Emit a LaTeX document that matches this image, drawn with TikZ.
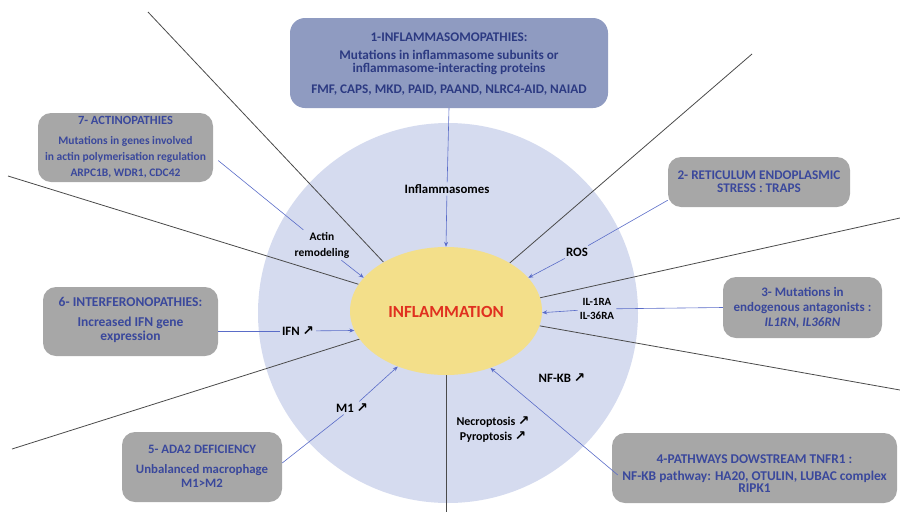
\documentclass[tikz,border=0pt]{standalone}
\usepackage{fontspec}
\setmainfont{Carlito}
\newfontfamily\dvs{DejaVu Sans}
\usetikzlibrary{arrows.meta,calc,shapes.geometric}
\definecolor{circfill}{HTML}{D5DBEF}
\definecolor{ellfill}{HTML}{F3DF8A}
\definecolor{boxgray}{HTML}{A7A7A7}
\definecolor{boxblue}{HTML}{8F9BC1}
\definecolor{txtblue}{HTML}{3A489C}
\definecolor{txtnavy}{HTML}{2C3A82}
\definecolor{conblue}{HTML}{5A6CC8}
\definecolor{sepgray}{HTML}{4A4A4A}
\definecolor{inflred}{HTML}{E0301F}
\newcommand\upar{{\dvs\bfseries\fontsize{13.5}{13}\selectfont ↗}}
\tikzset{
  graybox/.style={draw=none,fill=boxgray,rounded corners=13pt,inner sep=0pt},
  bluebox/.style={draw=none,fill=boxblue,rounded corners=15pt,inner sep=0pt},
  btext/.style={text=txtblue,font=\bfseries\fontsize{13.2}{13}\selectfont,align=center,inner sep=0pt},
  lab/.style={text=black,font=\bfseries\fontsize{12.8}{14}\selectfont,align=center,inner sep=2pt},
  sepline/.style={draw=sepgray,line width=0.8pt},
  conn/.style={draw=conblue,line width=0.6pt},
  arr/.style={conn,-{Stealth[length=5pt,width=4pt]}},
}
\begin{document}
\begin{tikzpicture}[x=1pt,y=-1pt]
\useasboundingbox (0,0) rectangle (900,512);
% big circle and central ellipse
\node[circle,fill=circfill,minimum size=380pt,inner sep=0pt] (circ) at (448,313) {};
% separator lines
\node[ellipse,minimum width=192pt,minimum height=128pt,inner sep=0pt] (infl) at (446,311) {};
\coordinate (e1) at (148,12);
\coordinate (e2) at (752,54);
\coordinate (e3) at (900,218);
\coordinate (e4) at (900,390);
\coordinate (e5) at (446,512);
\coordinate (e6) at (12,449);
\coordinate (e7) at (8,176);
\draw[sepline] (infl.142.7) -- (e1);
\draw[sepline] (infl.37.7) -- (e2);
\draw[sepline] (infl.8.7) -- (e3);
\draw[sepline] (infl.-9.5) -- (e4);
\draw[sepline] (infl.south) -- (e5);
\draw[sepline] (infl.198.2) -- (e6);
\draw[sepline] (infl.163.2) -- (e7);
\node[ellipse,fill=ellfill,minimum width=192pt,minimum height=128pt,inner sep=0pt] (inflb) at (446,311) {};
\node[text=inflred,font=\bfseries\fontsize{17}{19}\selectfont] (inflt) at (446,312) {INFLAMMATION};
% boxes
\node[bluebox,minimum width=318pt,minimum height=90pt] (box1) at (449,63) {};
\node[btext,text=txtnavy] (t1) at (449,64) {1-INFLAMMASOMOPATHIES:\\[5pt]Mutations in inflammasome subunits or\\inflammasome-interacting proteins\\[8pt]FMF, CAPS, MKD, PAID, PAAND, NLRC4-AID, NAIAD};
\node[graybox,minimum width=182pt,minimum height=50pt] (box2) at (759,182) {};
\node[btext] (t2) at (759,182) {2- RETICULUM ENDOPLASMIC\\STRESS : TRAPS};
\node[graybox,minimum width=159pt,minimum height=61pt] (box3) at (802.5,307.5) {};
\node[btext,font=\bfseries\fontsize{13}{15}\selectfont] (t3) at (802.5,307.5) {3- Mutations in\\endogenous antagonists :\\\textit{IL1RN, IL36RN}};
\node[graybox,minimum width=285pt,minimum height=70pt] (box4) at (754.5,468) {};
\node[btext,font=\bfseries\fontsize{13.4}{13}\selectfont] (t4) at (754.5,474) {4-PATHWAYS DOWSTREAM TNFR1 :\\[4pt]NF-KB pathway: HA20, OTULIN, LUBAC complex\\[-1pt]RIPK1};
\node[graybox,minimum width=160pt,minimum height=70pt] (box5) at (202,467) {};
\node[btext,font=\bfseries\fontsize{12.8}{13.5}\selectfont] (t5) at (202,466.5) {5- ADA2 DEFICIENCY\\[6.5pt]Unbalanced macrophage\\M1>M2};
\node[graybox,minimum width=175pt,minimum height=69pt] (box6) at (130.5,321.5) {};
\node[btext,font=\bfseries\fontsize{13.5}{14}\selectfont] (t6) at (130.5,320) {6- INTERFERONOPATHIES:\\[6pt]Increased IFN gene\\expression};
\node[graybox,minimum width=175pt,minimum height=69pt] (box7) at (125.5,147.5) {};
\node[btext,font=\bfseries\fontsize{11.5}{16}\selectfont] (t7) at (125.5,147) {{\fontsize{12.5}{16}\selectfont 7- ACTINOPATHIES}\\[4pt]Mutations in genes involved\\in actin polymerisation regulation\\ARPC1B, WDR1, CDC42};
% labels
\node[lab] (infm) at (447,189) {Inflammasomes};
\node[lab,font=\bfseries\fontsize{11.5}{16}\selectfont] (actin) at (322,245) {Actin\\remodeling};
\node[lab] (ros) at (577,252) {ROS};
\node[lab,font=\bfseries\fontsize{11}{13.5}\selectfont] (il) at (597,309) {IL-1RA\\IL-36RA};
\node[lab] (ifn) at (298,331) {IFN \upar};
\node[lab] (m1) at (352,408) {M1 \upar};
\node[lab] (nfkb) at (562,378) {NF-KB \upar};
\node[lab,font=\bfseries\fontsize{12}{15}\selectfont] (necro) at (493,429.5) {Necroptosis \upar\\Pyroptosis \upar};
% connectors
\draw[conn] (box1.south) -- (infm);
\draw[arr] (infm) -- (infl.north);
\draw[conn] ($(box7.east)+(5,13)$) -- (actin);
\draw[arr] (actin) -- (infl.158);
\draw[conn] ($(box2.south west)+(0,-7)$) -- (ros);
\draw[arr] (ros) -- (infl.22);
\draw[conn] (box3.west) -- (il);
\draw[arr] (il) -- (infl.-1);
\draw[conn] (box6.east |- ifn) -- (ifn);
\draw[arr] (ifn) -- (infl.192.4);
\draw[conn] ($(box5.east)+(0,-4)$) -- (m1);
\draw[arr] (m1) -- (infl.229);
\draw[arr] ($(box4.west)+(6,7)$) -- (infl.-52);
\end{tikzpicture}
\end{document}
